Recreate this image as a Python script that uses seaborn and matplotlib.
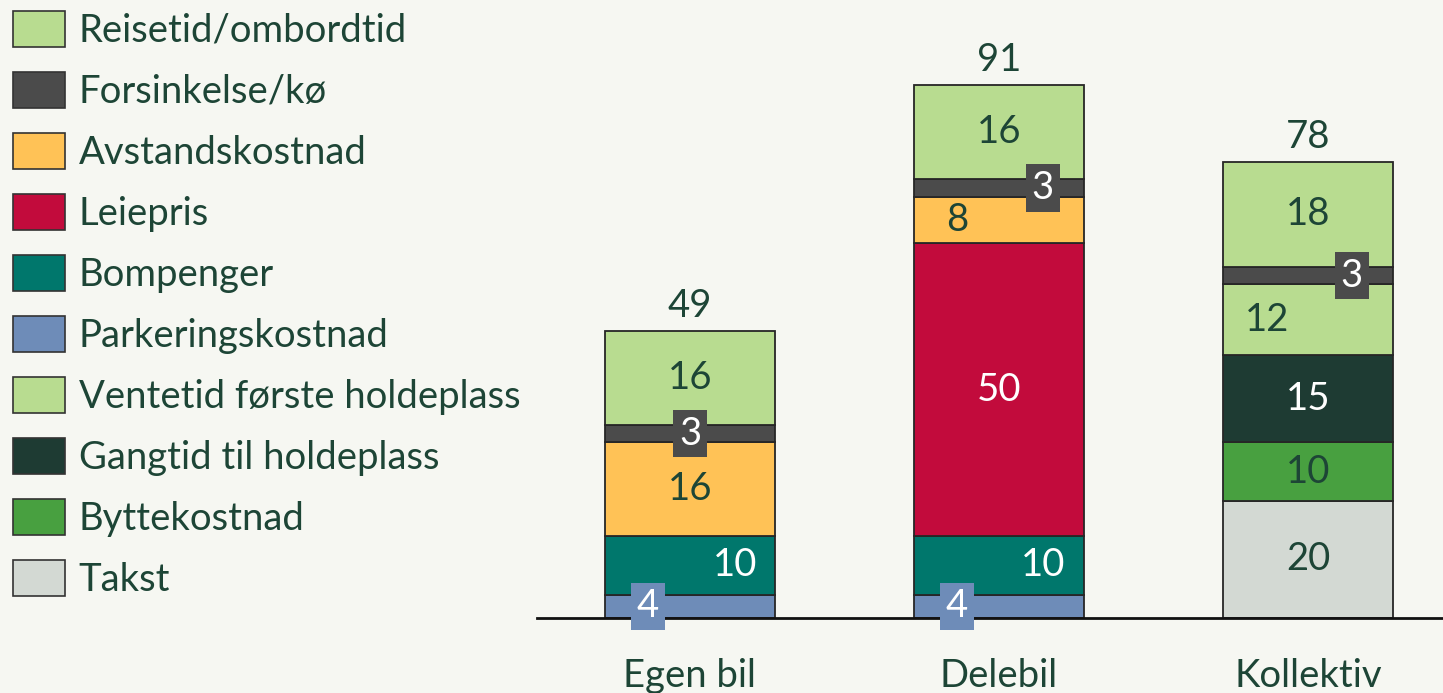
import matplotlib
matplotlib.use("Agg")
import matplotlib.pyplot as plt
import seaborn as sns
import pandas as pd
from matplotlib.patches import Patch

# --- data ---
categories = ["Egen bil", "Delebil", "Kollektiv"]
legend_order = ["Reisetid/ombordtid", "Forsinkelse/kø", "Avstandskostnad", "Leiepris",
                "Bompenger", "Parkeringskostnad", "Ventetid første holdeplass",
                "Gangtid til holdeplass", "Byttekostnad", "Takst"]

# segments bottom -> top
egen_bil_parts = ["Parkeringskostnad", "Bompenger", "Avstandskostnad", "Forsinkelse/kø", "Reisetid/ombordtid"]
egen_bil_vals = [4, 10, 16, 3, 16]
delebil_parts = ["Parkeringskostnad", "Bompenger", "Leiepris", "Avstandskostnad", "Forsinkelse/kø", "Reisetid/ombordtid"]
delebil_vals = [4, 10, 50, 8, 3, 16]
kollektiv_parts = ["Takst", "Byttekostnad", "Gangtid til holdeplass", "Ventetid første holdeplass", "Forsinkelse/kø", "Reisetid/ombordtid"]
kollektiv_vals = [20, 10, 15, 12, 3, 18]

# --- style ---
BG = "#f6f7f2"
TXT = "#1d4536"
colors = {
    "Reisetid/ombordtid": "#b8dc90",
    "Forsinkelse/kø": "#4b4b4b",
    "Avstandskostnad": "#ffc256",
    "Leiepris": "#c20b3c",
    "Bompenger": "#00776c",
    "Parkeringskostnad": "#6e8cb8",
    "Ventetid første holdeplass": "#b8dc90",
    "Gangtid til holdeplass": "#1e3b33",
    "Byttekostnad": "#48a040",
    "Takst": "#d3d9d3",
}
white_text = {"Forsinkelse/kø", "Leiepris", "Bompenger", "Parkeringskostnad", "Gangtid til holdeplass"}
boxed = {"Forsinkelse/kø", "Parkeringskostnad"}
# label x offsets (in bar units) per category/segment
label_dx = {
    ("Egen bil", "Bompenger"): 0.145, ("Egen bil", "Parkeringskostnad"): -0.136,
    ("Delebil", "Bompenger"): 0.142, ("Delebil", "Parkeringskostnad"): -0.136,
    ("Delebil", "Forsinkelse/kø"): 0.142, ("Delebil", "Avstandskostnad"): -0.136,
    ("Kollektiv", "Forsinkelse/kø"): 0.142, ("Kollektiv", "Ventetid første holdeplass"): -0.133,
}

sns.set_theme(style="white")
plt.rcParams["font.family"] = ["Lato", "DejaVu Sans"]
FS = 27.5

fig = plt.figure(figsize=(14.43, 6.93), dpi=100, facecolor=BG)
ax = fig.add_axes([537 / 1443, 75 / 693, 906 / 1443, 618 / 693])
ax.set_facecolor(BG)

stacks = {
    "Egen bil": (egen_bil_parts, egen_bil_vals),
    "Delebil": (delebil_parts, delebil_vals),
    "Kollektiv": (kollektiv_parts, kollektiv_vals),
}

for ci, cat in enumerate(categories):
    parts, vals = stacks[cat]
    bottom = 0
    for part, v in zip(parts, vals):
        seg = pd.DataFrame({"cat": [cat], "val": [v]})
        sns.barplot(data=seg, x="cat", y="val", order=categories, color=colors[part],
                    saturation=1, width=0.553, bottom=bottom, edgecolor="#262626",
                    linewidth=1.3, ax=ax, errorbar=None)
        dx = label_dx.get((cat, part), 0)
        tc = "white" if part in white_text else TXT
        bbox = None
        if part in boxed:
            bbox = dict(boxstyle="square,pad=0.15", fc=colors[part], ec="none")
        ax.text(ci + dx, bottom + v / 2, str(v), ha="center", va="center",
                fontsize=FS, color=tc, bbox=bbox)
        bottom += v
    ax.annotate(str(bottom), (ci, bottom), xytext=(0, 5), textcoords="offset points",
                ha="center", va="bottom", fontsize=FS, color=TXT)

ax.set_xlim(-0.495, 2.437)
ax.set_ylim(0, 105.6)
ax.set_xlabel("")
ax.set_ylabel("")
ax.set_yticks([])
ax.tick_params(axis="x", length=0, pad=29, labelsize=FS, labelcolor=TXT)
for s in ["top", "right", "left"]:
    ax.spines[s].set_visible(False)
ax.spines["bottom"].set_color("#111111")
ax.spines["bottom"].set_linewidth(2)

handles = [Patch(facecolor=colors[p], edgecolor="#333333", linewidth=1.2, label=p) for p in legend_order]
fig.legend(handles=handles, loc="upper left", bbox_to_anchor=(0.009, 0.984), frameon=False,
           fontsize=FS, labelcolor=TXT, handlelength=1.37, handleheight=1.05,
           labelspacing=0.61, handletextpad=0.35, borderaxespad=0, borderpad=0)

fig.savefig("out.png", dpi=100, facecolor=BG)
